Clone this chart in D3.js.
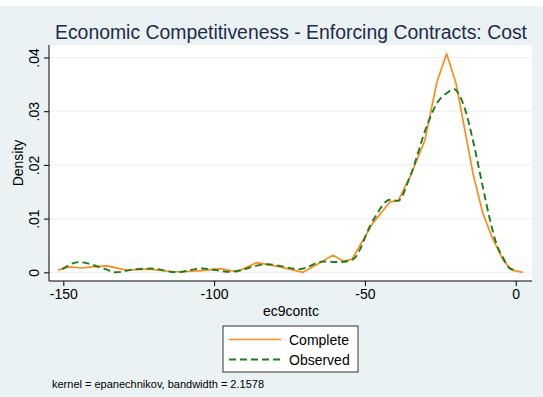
<!DOCTYPE html>
<html><head><meta charset="utf-8">
<script src="https://cdn.jsdelivr.net/npm/d3@7"></script>
<style>body{margin:0;background:#fff}svg{display:block}text{font-family:"Liberation Sans",Arial,sans-serif}</style>
</head><body>
<script>
const completeX = [-151.7,-148.1,-143.8,-140.8,-135.5,-129.2,-121.6,-114.0,-110.7,-104.0,-98.0,-92.4,-85.8,-78.2,-70.5,-63.9,-60.6,-57.2,-54.3,-47.3,-41.7,-39.0,-35.0,-30.1,-26.1,-22.9,-19.8,-17.5,-14.2,-10.9,-7.9,-4.2,-1.2,2.4];
const completeY = [0.0004,0.0010,0.0008,0.0010,0.0012,0.0004,0.0006,0.0001,0.0001,0.0003,0.0007,0.0001,0.0018,0.0010,0.0000,0.0021,0.0032,0.0021,0.0024,0.0092,0.0131,0.0133,0.0178,0.0246,0.0355,0.0407,0.0352,0.0284,0.0185,0.0110,0.0066,0.0023,0.0004,0.0000];
const observedX = [-150.4,-144.8,-140.4,-137.1,-132.5,-125.9,-120.6,-112.6,-104.0,-94.7,-82.5,-71.6,-63.9,-58.3,-54.0,-47.3,-41.7,-39.0,-35.0,-29.1,-26.1,-22.8,-20.4,-18.4,-16.7,-14.2,-10.9,-8.5,-6.5,-4.2,-1.9,0.4];
const observedY = [0.0006,0.0019,0.0014,0.0008,0.0000,0.0006,0.0007,0.0000,0.0007,0.0001,0.0015,0.0006,0.0020,0.0019,0.0024,0.0097,0.0135,0.0133,0.0179,0.0278,0.0315,0.0334,0.0341,0.0327,0.0302,0.0246,0.0159,0.0097,0.0055,0.0027,0.0007,0.0004];
const xTicks = [-150,-100,-50,0];
const yTicks = [0,0.01,0.02,0.03,0.04];
const yTickLabels = ["0",".01",".02",".03",".04"];
const seriesNames = ["Complete","Observed"];

const W=543,H=397;
const svg=d3.select("body").append("svg").attr("width",W).attr("height",H);
svg.append("rect").attr("x",0).attr("y",0).attr("width",W).attr("height",H).attr("fill","#fff");
svg.append("rect").attr("x",0).attr("y",6).attr("width",W).attr("height",H-6).attr("fill","#eaf2f3");

const x=d3.scaleLinear().domain([-150,0]).range([63.3,515.7]);
const y=d3.scaleLinear().domain([0,0.04]).range([272.3,57.5]);
const pl=49,pr=532,pt=45,pb=281;

svg.append("rect").attr("x",pl).attr("y",pt).attr("width",pr-pl).attr("height",pb-pt).attr("fill","#fff");
svg.append("g").selectAll("line").data(yTicks).join("line")
  .attr("x1",pl).attr("x2",pr).attr("y1",d=>y(d)).attr("y2",d=>y(d))
  .attr("stroke","#eaf2f3").attr("stroke-width",1.2);

const gy=svg.append("g").attr("transform",`translate(${pl},0)`)
  .call(d3.axisLeft(y).tickValues(yTicks).tickSize(5).tickFormat((d,i)=>yTickLabels[i]));
gy.select(".domain").attr("d",`M0,${pt}V${pb}`).attr("stroke","#000");
gy.selectAll(".tick line").attr("stroke","#000");
gy.selectAll(".tick text").attr("font-size",14).attr("fill","#000")
  .attr("transform","rotate(-90)").attr("text-anchor","middle").attr("x",0).attr("y",-10).attr("dy","0");

const gx=svg.append("g").attr("transform",`translate(0,${pb})`)
  .call(d3.axisBottom(x).tickValues(xTicks).tickSize(5).tickFormat(d=>String(d)));
gx.select(".domain").attr("d",`M${pl},0H${pr}`).attr("stroke","#000");
gx.selectAll(".tick line").attr("stroke","#000");
gx.selectAll(".tick text").attr("font-size",14).attr("fill","#000").attr("y",8);

svg.append("text").attr("transform","translate(23,163) rotate(-90)").attr("text-anchor","middle")
  .attr("font-size",14).text("Density");
svg.append("text").attr("x",291).attr("y",316).attr("text-anchor","middle").attr("font-size",14).text("ec9contc");
svg.append("text").attr("x",291).attr("y",39).attr("text-anchor","middle").attr("font-size",19.4).attr("fill","#1e2b4a")
  .text("Economic Competitiveness - Enforcing Contracts: Cost");

const lineC=d3.line().x(d=>x(d[0])).y(d=>y(d[1]));
const lineO=d3.line().x(d=>x(d[0])).y(d=>y(d[1])).curve(d3.curveMonotoneX);
svg.append("path").datum(d3.zip(completeX,completeY)).attr("d",lineC)
  .attr("fill","none").attr("stroke","#ff8a1f").attr("stroke-width",1.7).attr("stroke-linejoin","round");
svg.append("path").datum(d3.zip(observedX,observedY)).attr("d",lineO)
  .attr("fill","none").attr("stroke","#1a7f1a").attr("stroke-width",1.9).attr("stroke-dasharray","7,4");

const lg=svg.append("g");
lg.append("rect").attr("x",223).attr("y",326).attr("width",135).attr("height",46).attr("fill","#fff").attr("stroke","#333").attr("stroke-width",1);
const colors=["#ff8a1f","#1a7f1a"], dashes=[null,"7,4"];
seriesNames.forEach((n,i)=>{
  const yy=339.5+i*20;
  lg.append("line").attr("x1",229).attr("x2",281).attr("y1",yy).attr("y2",yy)
    .attr("stroke",colors[i]).attr("stroke-width",i?1.9:1.7).attr("stroke-dasharray",dashes[i]);
  lg.append("text").attr("x",289).attr("y",yy+5).attr("font-size",14).text(n);
});

svg.append("text").attr("x",52).attr("y",388).attr("font-size",11).text("kernel = epanechnikov, bandwidth = 2.1578");
</script>
</body></html>
